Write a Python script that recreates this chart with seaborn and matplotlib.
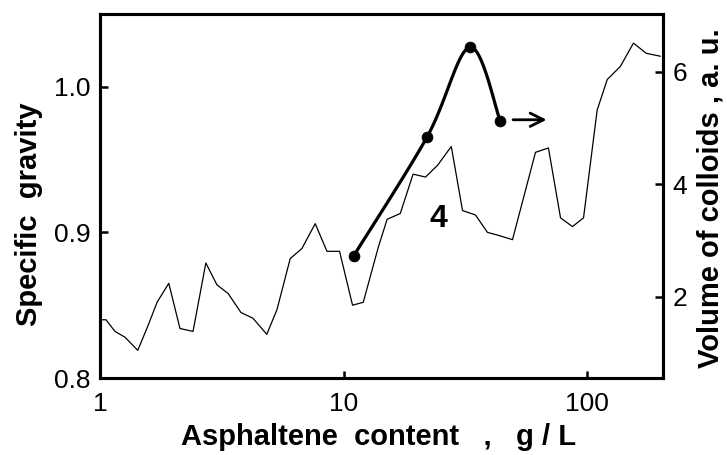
import numpy as np
import pandas as pd
import matplotlib
matplotlib.use("Agg")
import matplotlib.pyplot as plt
import seaborn as sns

# ---- data ----
conc_sg = [1.016, 1.058, 1.152, 1.267, 1.429, 1.575, 1.715, 1.916, 2.13, 2.41,
           2.72, 3.02, 3.36, 3.79, 4.25, 4.84, 5.33, 6.04, 6.75, 7.65,
           8.55, 9.63, 10.89, 12.05, 13.9, 15.1, 17.1, 19.3, 21.7, 24.3,
           27.7, 30.8, 34.8, 39.0, 43.2, 49.4, 61.4, 69.4, 77.8, 87.1,
           96.7, 110, 121, 137, 155, 175, 200]
specific_gravity = [0.840, 0.840, 0.832, 0.828, 0.819, 0.836, 0.852, 0.865, 0.834, 0.832,
                    0.879, 0.864, 0.858, 0.845, 0.841, 0.830, 0.847, 0.882, 0.889, 0.906,
                    0.887, 0.887, 0.850, 0.852, 0.890, 0.909, 0.913, 0.940, 0.938, 0.946,
                    0.959, 0.915, 0.912, 0.900, 0.898, 0.895, 0.955, 0.958, 0.910, 0.904,
                    0.910, 0.984, 1.005, 1.014, 1.030, 1.023, 1.021]

conc_colloid = [11, 22, 33, 44]
colloid_volume = [2.73, 4.84, 6.44, 5.13]

x_ticks = [1, 10, 100]
x_tick_labels = ["1", "10", "100"]
left_ticks = [0.8, 0.9, 1.0]
left_tick_labels = ["0.8", "0.9", "1.0"]
right_ticks = [2, 4, 6]
right_tick_labels = ["2", "4", "6"]

curve_label = "4"
xlabel = "Asphaltene  content   ,   g / L"
ylabel_left = "Specific  gravity"
ylabel_right = "Volume of colloids , a. u."


def smooth_curve(xs, ys, n=40):
    """Catmull-Rom rendering of a curve through the given points (log-x space)."""
    lx = np.log10(np.asarray(xs, float))
    yy = np.asarray(ys, float)
    P = np.column_stack([lx, yy])
    P = np.vstack([P[0], P, P[-1]])
    out = []
    for i in range(1, len(P) - 2):
        p0, p1, p2, p3 = P[i - 1], P[i], P[i + 1], P[i + 2]
        t = np.linspace(0, 1, n)[:, None]
        seg = 0.5 * ((2 * p1) + (-p0 + p2) * t + (2 * p0 - 5 * p1 + 4 * p2 - p3) * t ** 2
                     + (-p0 + 3 * p1 - 3 * p2 + p3) * t ** 3)
        out.append(seg if i == 1 else seg[1:])
    out = np.vstack(out)
    return 10 ** out[:, 0], out[:, 1]


sns.set_style("ticks")
plt.rcParams["font.family"] = ["Liberation Sans", "DejaVu Sans"]
plt.rcParams["text.color"] = "black"
plt.rcParams["xtick.color"] = "black"
plt.rcParams["ytick.color"] = "black"
plt.rcParams["axes.labelcolor"] = "black"

fig = plt.figure(figsize=(7.27, 4.55), dpi=100)
ax = fig.add_axes([100 / 727, 1 - 378 / 455, 563 / 727, 364 / 455])
ax2 = ax.twinx()

df_sg = pd.DataFrame({"conc": conc_sg, "sg": specific_gravity})
sns.lineplot(data=df_sg, x="conc", y="sg", ax=ax, color="black", linewidth=0.9,
             sort=False, estimator=None)

sx, sy = smooth_curve(conc_colloid, colloid_volume)
df_smooth = pd.DataFrame({"conc": sx, "vol": sy})
sns.lineplot(data=df_smooth, x="conc", y="vol", ax=ax2, color="black", linewidth=2.3,
             sort=False, estimator=None)
df_col = pd.DataFrame({"conc": conc_colloid, "vol": colloid_volume})
sns.scatterplot(data=df_col, x="conc", y="vol", ax=ax2, color="black", s=60,
                edgecolor="black", zorder=5)

# arrow pointing to the right axis
ax2.annotate("", xy=(70, 5.15), xytext=(48.4, 5.15),
             arrowprops=dict(arrowstyle="->", lw=2.0, color="black", mutation_scale=24))

ax.text(24.5, 0.909, curve_label, fontsize=23, fontweight="bold", ha="center", va="center")

ax.set_xscale("log")
ax.set_xlim(1, 205)
ax.set_ylim(0.8, 1.05)
ax2.set_ylim(0.56, 7.03)

ax.set_xticks(x_ticks)
ax.set_xticklabels(x_tick_labels)
ax.xaxis.set_minor_locator(matplotlib.ticker.NullLocator())
ax.set_yticks(left_ticks)
ax.set_yticklabels(left_tick_labels)
ax2.set_yticks(right_ticks)
ax2.set_yticklabels(right_tick_labels)

ax.tick_params(axis="x", direction="in", length=5, width=1.8, pad=10, labelsize=19)
ax.tick_params(axis="y", direction="in", length=6, width=1.8, pad=7, labelsize=19)
ax2.tick_params(axis="y", direction="in", length=6, width=1.8, pad=7, labelsize=19)

for a in (ax, ax2):
    for sp in a.spines.values():
        sp.set_visible(True)
        sp.set_linewidth(2.2)
        sp.set_color("black")

ax.set_xlabel(xlabel, fontsize=21, fontweight="bold", va="center")
ax.xaxis.set_label_coords(0.494, -0.162)
ax.set_ylabel(ylabel_left, fontsize=21, fontweight="bold", va="center")
ax.yaxis.set_label_coords(-0.126, 0.45)
ax2.set_ylabel(ylabel_right, fontsize=21, fontweight="bold", va="center", rotation=90)
ax2.yaxis.set_label_coords(1.0835, 0.495)

fig.savefig("out.png", dpi=100)
